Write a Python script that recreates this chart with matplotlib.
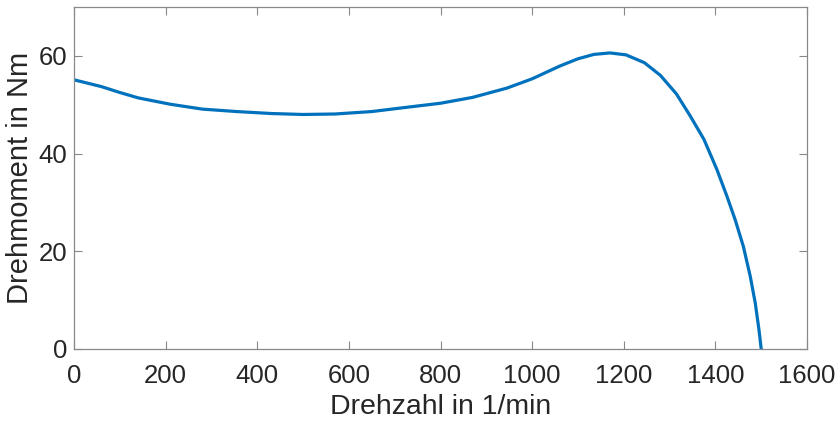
import matplotlib
matplotlib.use("Agg")
import matplotlib.pyplot as plt

# Drehzahl (1/min) und Drehmoment (Nm)
drehzahl = [0, 60, 100, 140, 210, 280, 355, 430, 500, 570, 650, 720, 800, 870,
            945, 1000, 1030, 1060, 1100, 1135, 1170, 1205, 1245, 1280, 1315,
            1345, 1375, 1403, 1425, 1443, 1461, 1476, 1487, 1495, 1500]
drehmoment = [55.1, 53.7, 52.5, 51.4, 50.1, 49.1, 48.6, 48.2, 48.0, 48.1, 48.6,
              49.4, 50.3, 51.5, 53.4, 55.3, 56.6, 57.9, 59.4, 60.3, 60.6, 60.2,
              58.6, 56.0, 52.2, 47.7, 42.9, 36.8, 31.3, 26.5, 21.0, 14.9, 9.4,
              4.0, 0.0]

x_ticks = [0, 200, 400, 600, 800, 1000, 1200, 1400, 1600]
y_ticks = [0, 20, 40, 60]

plt.rcParams['font.family'] = ['Liberation Sans', 'DejaVu Sans']

fig = plt.figure(figsize=(8.39, 4.24), dpi=100)
ax = fig.add_axes([0.0882, 0.1769, 0.8737, 0.8066])

ax.plot(drehzahl, drehmoment, color="#0072BD", linewidth=2.3,
        solid_joinstyle="round")

ax.set_xlim(0, 1600)
ax.set_ylim(0, 70)
ax.set_xticks(x_ticks)
ax.set_yticks(y_ticks)

for s in ax.spines.values():
    s.set_color("#888888")
    s.set_linewidth(0.9)
ax.tick_params(direction="in", length=6, width=0.8, color="#888888",
               labelsize=18.5, labelcolor="#262626", top=True, right=True, pad=5)
ax.tick_params(axis="x", pad=11)

ax.set_xlabel("Drehzahl in 1/min", fontsize=20.5, color="#262626", labelpad=4)
ax.set_ylabel("Drehmoment in Nm", fontsize=21, color="#262626", labelpad=3)

fig.savefig("out.png", dpi=100)
